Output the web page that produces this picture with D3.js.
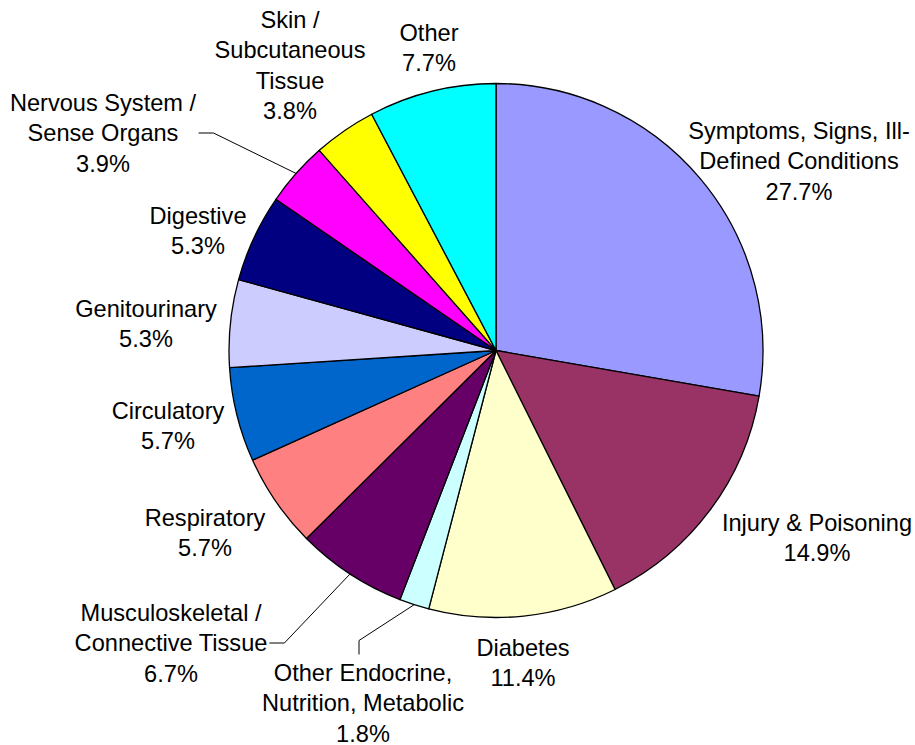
<html>
<head>
<script type="text/javascript" src="https://cdnjs.cloudflare.com/ajax/libs/d3/7.8.5/d3.min.js"></script>
<style type="text/css">
  body{ margin:0; background:#fff; }
  .lbl{ font-family:"Liberation Sans", Arial, sans-serif; font-size:23.6px; fill:#000; }
</style>
</head>
<body>
<div id="pieChart"></div>
<script type="text/javascript">
// categories, clockwise from 12 o'clock
let categories = [
  "Symptoms, Signs, Ill-|Defined Conditions",
  "Injury & Poisoning",
  "Diabetes",
  "Other Endocrine,|Nutrition, Metabolic",
  "Musculoskeletal /|Connective Tissue",
  "Respiratory",
  "Circulatory",
  "Genitourinary",
  "Digestive",
  "Nervous System /|Sense Organs",
  "Skin /|Subcutaneous|Tissue",
  "Other"
];
let shares = [27.7, 14.9, 11.4, 1.8, 6.7, 5.7, 5.7, 5.3, 5.3, 3.9, 3.8, 7.7];
let colours = ["#9999FF","#993366","#FFFFCC","#CCFFFF","#660066","#FF8080",
               "#0066CC","#CCCCFF","#000080","#FF00FF","#FFFF00","#00FFFF"];

// label layout: first-baseline position relative to pie centre, leader type
let labelAt = [
  {dx:303, dy:-212},
  {dx:321, dy:180},
  {dx:27, dy:305},
  {dx:-133, dy:330, leader:"up"},
  {dx:-325, dy:270, leader:"right"},
  {dx:-291, dy:175},
  {dx:-328, dy:68},
  {dx:-350, dy:-34},
  {dx:-298, dy:-127},
  {dx:-393, dy:-240, leader:"right"},
  {dx:-206, dy:-323},
  {dx:-67, dy:-310}
];

let W = 915, H = 745;
let cx = 496, cy = 350.5, r = 267;
let lineH = 30.5;

let svg = d3.select('#pieChart').append('svg')
  .attr('width', W).attr('height', H);

let g = svg.append('g').attr('transform', 'translate(' + cx + ',' + cy + ')');

let data = shares.map((v, i) => ({name: categories[i], value: v, colour: colours[i], pos: labelAt[i]}));

let pie = d3.pie().sort(null).value(d => d.value).startAngle(0).endAngle(2 * Math.PI);
let arc = d3.arc().innerRadius(0).outerRadius(r);
let arcs = pie(data);

g.selectAll('.slice')
  .data(arcs)
  .enter()
  .append('path')
  .attr('class', 'slice')
  .attr('d', arc)
  .attr('fill', d => d.data.colour)
  .attr('stroke', '#000')
  .attr('stroke-width', 1.3)
  .attr('stroke-linejoin', 'round');

// labels
let labels = g.selectAll('.lbl')
  .data(arcs)
  .enter()
  .append('text')
  .attr('class', 'lbl')
  .attr('text-anchor', 'middle');

labels.each(function(d){
  let lines = d.data.name.split('|').concat([d.data.value.toFixed(1) + '%']);
  let t = d3.select(this);
  lines.forEach((s, k) => {
    t.append('tspan')
      .attr('x', d.data.pos.dx)
      .attr('y', d.data.pos.dy + k * lineH)
      .text(s);
  });
});

// leader lines
labels.filter(d => d.data.pos.leader).each(function(d){
  let box = this.getBBox();
  let mid = (d.startAngle + d.endAngle) / 2;
  let ex = Math.sin(mid) * r, ey = -Math.cos(mid) * r;
  let pts;
  if (d.data.pos.leader === 'right') {
    // attach at the right edge of the label box, level with the second line
    let sx = box.x + box.width + 2, sy = d.data.pos.dy + lineH - 8;
    pts = [[sx, sy], [sx + 15, sy], [ex, ey]];
  } else {
    let sx = d.data.pos.dx - 4, sy = box.y - 5;
    pts = [[sx, sy], [sx, sy - 14], [ex, ey]];
  }
  g.append('path')
    .attr('d', d3.line()(pts))
    .attr('fill', 'none')
    .attr('stroke', '#000')
    .attr('stroke-width', 1);
});
</script>
</body>
</html>
